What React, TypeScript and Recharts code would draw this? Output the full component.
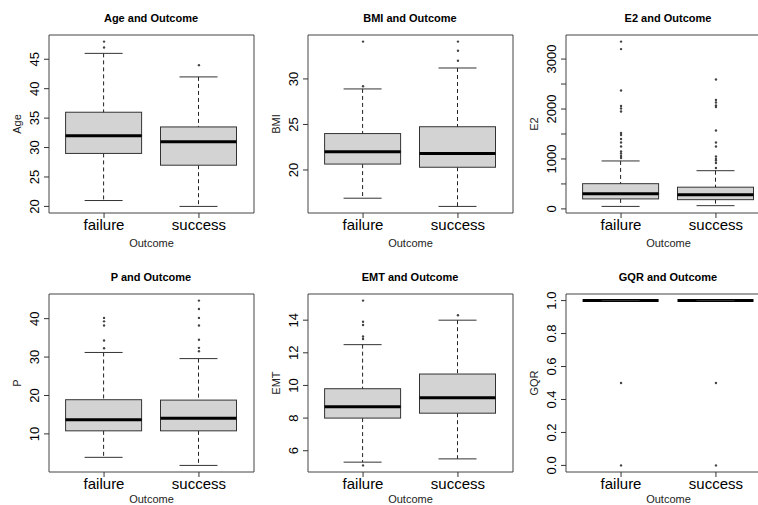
import React from 'react';
import { ComposedChart, Bar, Scatter, XAxis, YAxis, CartesianGrid } from 'recharts';

const outcomes = ['failure', 'success'];

// box stats per outcome: [lower whisker, Q1, median, Q3, upper whisker]
const ageStats = [[21, 29, 32, 36, 46], [20, 27, 31, 33.5, 42]];
const ageOutliers = [[47, 48], [44]];
const ageTicks = [20, 25, 30, 35, 40, 45];

const bmiStats = [[16.9, 20.65, 22.0, 24.0, 28.9], [16.0, 20.3, 21.8, 24.75, 31.2]];
const bmiOutliers = [[29.2, 34.1], [32.0, 33.1, 34.1]];
const bmiTicks = [20, 25, 30];

const e2Stats = [[50, 200, 305, 505, 960], [65, 185, 285, 435, 765]];
const e2Outliers = [
  [1020, 1060, 1110, 1150, 1250, 1330, 1400, 1480, 1520, 1950, 2010, 2060, 2370, 3200, 3350],
  [820, 920, 970, 1000, 1050, 1250, 1330, 1570, 2040, 2070, 2130, 2180, 2590],
];
const e2Ticks = [0, 500, 1000, 1500, 2000, 2500, 3000];

const pStats = [[3.9, 10.8, 13.7, 18.9, 31.2], [1.8, 10.8, 14.1, 18.8, 29.6]];
const pOutliers = [[32.3, 34.3, 38.2, 39.3, 40.2], [31.5, 32.4, 34.5, 38.2, 40.2, 42.5, 44.7]];
const pTicks = [10, 20, 30, 40];

const emtStats = [[5.3, 8.0, 8.7, 9.8, 12.5], [5.5, 8.3, 9.25, 10.7, 14.0]];
const emtOutliers = [[5.1, 12.85, 13.0, 13.7, 13.9, 15.2], [14.3]];
const emtTicks = [6, 8, 10, 12, 14];

const gqrStats = [[1, 1, 1, 1, 1], [1, 1, 1, 1, 1]];
const gqrOutliers = [[0, 0.5], [0, 0.5]];
const gqrTicks = [0, 0.2, 0.4, 0.6, 0.8, 1.0];

const FONT = '"Liberation Sans", Arial, sans-serif';
const PLOT_W = 205;
const PLOT_H = 178;
const Y_W = 48;
const TOP = 40;
const X_H = 34;
const BOTTOM = 10;
const colLeft = [48.5, 307.5, 565.5];
const rowTop = [35, 294];
// baseline of the "Outcome" label below the plot, per row (bottom row kept inside the frame)
const xTitleDrop = [34, 30.5];

const YTick = (props: any) => {
  const { x, y, payload, fmt } = props;
  const cx = x - 7.5;
  return (
    <text x={cx} y={y} transform={`rotate(-90 ${cx} ${y})`} textAnchor="middle" dy="0.36em"
      fontSize={13} fontFamily={FONT} fill="#000">
      {fmt(payload.value)}
    </text>
  );
};

const XTick = (props: any) => {
  const { x, y, payload } = props;
  return (
    <text x={x} y={y + 11.5} textAnchor="middle" fontSize={15} fontFamily={FONT} fill="#000">
      {payload.value}
    </text>
  );
};

const YTitle = (props: any) => {
  const { viewBox, text } = props;
  const cx = viewBox.x + viewBox.width - 32;
  const cy = viewBox.y + viewBox.height / 2;
  return (
    <text x={cx} y={cy} transform={`rotate(-90 ${cx} ${cy})`} textAnchor="middle" dy="0.36em"
      fontSize={11} fontFamily={FONT} fill="#222">
      {text}
    </text>
  );
};

const XTitle = (props: any) => {
  const { viewBox, text, drop } = props;
  return (
    <text x={viewBox.x + viewBox.width / 2} y={viewBox.y + drop} textAnchor="middle"
      fontSize={11} fontFamily={FONT} fill="#222">
      {text}
    </text>
  );
};

const Nothing = () => <g />;

const LowWhisker = (p: any) => {
  const cx = p.x + p.width / 2;
  const cap = p.width / 4;
  const yb = p.y + p.height;
  return (
    <g>
      <line x1={cx} x2={cx} y1={p.y} y2={yb} stroke="#222" strokeDasharray="4 3" />
      <line x1={cx - cap} x2={cx + cap} y1={yb} y2={yb} stroke="#333" />
    </g>
  );
};

const HighWhisker = (p: any) => {
  const cx = p.x + p.width / 2;
  const cap = p.width / 4;
  return (
    <g>
      <line x1={cx} x2={cx} y1={p.y} y2={p.y + p.height} stroke="#222" strokeDasharray="4 3" />
      <line x1={cx - cap} x2={cx + cap} y1={p.y} y2={p.y} stroke="#333" />
    </g>
  );
};

const LowerBox = (p: any) => (
  <rect x={p.x} y={p.y} width={p.width} height={Math.max(p.height, 0)} fill="#D3D3D3" stroke="#333" />
);

const UpperBox = (p: any) => (
  <g>
    <rect x={p.x} y={p.y} width={p.width} height={Math.max(p.height, 0)} fill="#D3D3D3" stroke="#333" />
    <line x1={p.x} x2={p.x + p.width} y1={p.y + p.height} y2={p.y + p.height} stroke="#000" strokeWidth={3} />
  </g>
);

const Dot = (p: any) => <circle cx={p.cx} cy={p.cy} r={1.2} fill="#444" />;

interface PanelProps {
  title: string;
  ylab: string;
  stats: number[][];
  outliers: number[][];
  ticks: number[];
  fmt: (v: number) => string;
  col: number;
  row: number;
}

function Panel({ title, ylab, stats, outliers, ticks, fmt, col, row }: PanelProps) {
  const rows = outcomes.map((name, i) => {
    const [lo, q1, md, q3, hi] = stats[i];
    return { name, base: lo, w1: q1 - lo, b1: md - q1, b2: q3 - md, w2: hi - q3 };
  });
  const points = outcomes.flatMap((name, i) => outliers[i].map((v) => ({ name, v })));
  const all = [...stats.flat(), ...outliers.flat()];
  const mn = Math.min(...all);
  const mx = Math.max(...all);
  const pad = (mx - mn) * 0.04;

  return (
    <div style={{ position: 'absolute', left: colLeft[col] - Y_W, top: rowTop[row] - TOP }}>
      <div style={{
        position: 'absolute', left: Y_W, top: TOP - 24, width: PLOT_W, textAlign: 'center',
        fontFamily: FONT, fontWeight: 'bold', fontSize: 11, lineHeight: '14px', color: '#000',
      }}>
        {title}
      </div>
      <ComposedChart width={Y_W + PLOT_W + 6} height={TOP + PLOT_H + X_H + BOTTOM} data={rows}
        margin={{ top: TOP, right: 6, bottom: BOTTOM, left: 0 }}>
        <CartesianGrid stroke="#444"
          horizontalCoordinatesGenerator={({ offset }: any) => [offset.top, offset.top + offset.height]}
          verticalCoordinatesGenerator={({ offset }: any) => [offset.left, offset.left + offset.width]} />
        <XAxis dataKey="name" type="category" allowDuplicatedCategory={false} interval={0}
          padding={{ left: 7.6, right: 7.6 }} height={X_H} tickSize={5} tickMargin={0}
          axisLine={false} tickLine={{ stroke: '#333' }} tick={<XTick />}
          label={<XTitle text="Outcome" drop={xTitleDrop[row]} />} />
        <YAxis type="number" domain={[mn - pad, mx + pad]} allowDataOverflow ticks={ticks} interval={0}
          width={Y_W} tickSize={5} tickMargin={2} axisLine={false} tickLine={{ stroke: '#333' }}
          tick={<YTick fmt={fmt} />} label={<YTitle text={ylab} />} />
        <Bar dataKey="base" stackId="box" barSize={76} shape={<Nothing />} isAnimationActive={false} />
        <Bar dataKey="w1" stackId="box" barSize={76} shape={<LowWhisker />} isAnimationActive={false} />
        <Bar dataKey="b1" stackId="box" barSize={76} shape={<LowerBox />} isAnimationActive={false} />
        <Bar dataKey="b2" stackId="box" barSize={76} shape={<UpperBox />} isAnimationActive={false} />
        <Bar dataKey="w2" stackId="box" barSize={76} shape={<HighWhisker />} isAnimationActive={false} />
        <Scatter data={points} dataKey="v" shape={<Dot />} isAnimationActive={false} />
      </ComposedChart>
    </div>
  );
}

const plain = (v: number) => String(v);

export default function App() {
  return (
    <div style={{ position: 'absolute', left: 0, top: 0, width: 758, height: 505, overflow: 'hidden', background: '#fff' }}>
      <Panel title="Age and Outcome" ylab="Age" stats={ageStats} outliers={ageOutliers} ticks={ageTicks} fmt={plain} col={0} row={0} />
      <Panel title="BMI and Outcome" ylab="BMI" stats={bmiStats} outliers={bmiOutliers} ticks={bmiTicks} fmt={plain} col={1} row={0} />
      <Panel title="E2 and Outcome" ylab="E2" stats={e2Stats} outliers={e2Outliers} ticks={e2Ticks}
        fmt={(v) => (v % 1000 === 0 ? String(v) : '')} col={2} row={0} />
      <Panel title="P and Outcome" ylab="P" stats={pStats} outliers={pOutliers} ticks={pTicks} fmt={plain} col={0} row={1} />
      <Panel title="EMT and Outcome" ylab="EMT" stats={emtStats} outliers={emtOutliers} ticks={emtTicks} fmt={plain} col={1} row={1} />
      <Panel title="GQR and Outcome" ylab="GQR" stats={gqrStats} outliers={gqrOutliers} ticks={gqrTicks}
        fmt={(v) => v.toFixed(1)} col={2} row={1} />
    </div>
  );
}
